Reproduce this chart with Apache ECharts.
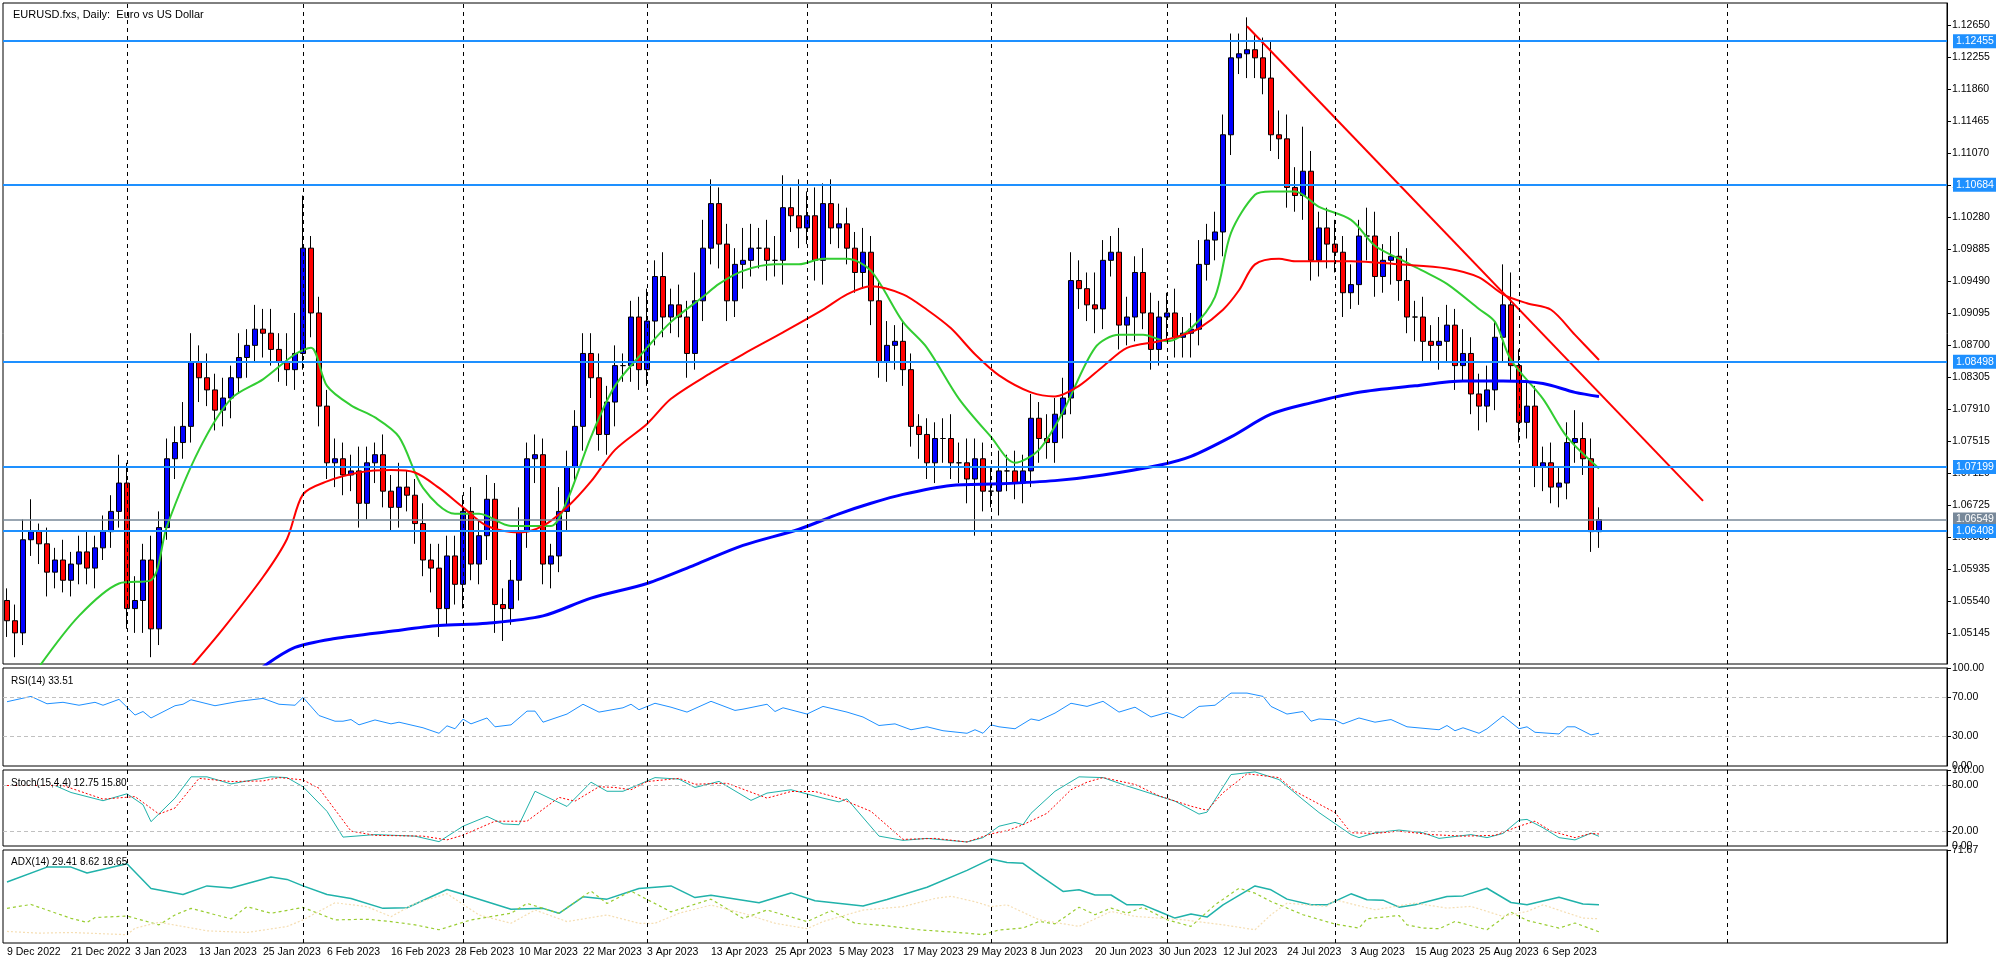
<!DOCTYPE html>
<html><head><meta charset="utf-8">
<script src="https://cdn.jsdelivr.net/npm/echarts@6/dist/echarts.min.js"></script>
<style>html,body{margin:0;padding:0;background:#fff}#c{width:1996px;height:958px}</style>
</head><body><div id="c"></div>
<script>
const titleText = 'EURUSD.fxs, Daily:  Euro vs US Dollar';
const startDate = '2022-12-09';
const skipDays = ['2022-12-26'];
const totalSlots = 243;
const closes = [
1.0530,1.0515,1.0630,1.0640,1.0625,1.0590,1.0605,1.0580,1.0600,1.0615,
1.0595,1.0620,1.0640,1.0665,1.0700,1.0545,1.0555,1.0605,1.0520,1.0645,
1.0730,1.0750,1.0770,1.0850,1.0830,1.0815,1.0790,1.0805,1.0830,1.0855,
1.0870,1.0890,1.0885,1.0865,1.0850,1.0840,1.0860,1.0990,1.0910,1.0795,
1.0725,1.0730,1.0710,1.0715,1.0675,1.0725,1.0735,1.0690,1.0670,1.0695,
1.0685,1.0650,1.0605,1.0595,1.0545,1.0610,1.0575,1.0665,1.0600,1.0635,
1.0680,1.0550,1.0545,1.0580,1.0640,1.0730,1.0735,1.0600,1.0610,1.0665,
1.0720,1.0770,1.0860,1.0830,1.0760,1.0800,1.0845,1.0845,1.0905,1.0840,
1.0900,1.0955,1.0905,1.0920,1.0905,1.0860,1.0925,1.0990,1.1045,1.0995,
1.0925,1.0970,1.0975,1.0990,1.0990,1.0975,1.0975,1.1040,1.1030,1.1015,
1.1030,1.0975,1.1045,1.1015,1.1020,1.0990,1.0960,1.0985,1.0925,1.0850,
1.0870,1.0875,1.0840,1.0770,1.0760,1.0725,1.0755,1.0755,1.0725,1.0725,
1.0705,1.0730,1.0690,1.0690,1.0715,1.0715,1.0700,1.0715,1.0780,1.0755,
1.0750,1.0785,1.0805,1.0950,1.0940,1.0920,1.0915,1.0975,1.0985,1.0895,
1.0905,1.0960,1.0910,1.0865,1.0905,1.0910,1.0880,1.0885,1.0890,1.0970,
1.1000,1.1010,1.1130,1.1225,1.1230,1.1235,1.1225,1.1200,1.1130,1.1125,
1.1065,1.1055,1.1085,1.0975,1.1015,1.0995,1.0985,1.0935,1.0945,1.1005,
1.1005,1.0955,1.0975,1.0980,1.0950,1.0905,1.0905,1.0875,1.0870,1.0875,
1.0895,1.0845,1.0860,1.0810,1.0795,1.0815,1.0880,1.0920,1.0845,1.0775,
1.0795,1.0720,1.0725,1.0695,1.0700,1.0750,1.0755,1.0730,1.0640,1.0655];
const firstOpen = 1.0555;
const wickUpPips = [
15,20,25,40,10,20,15,25,15,20,25,15,20,20,35,25,30,20,30,20,
25,20,30,35,20,30,20,25,15,30,20,30,25,30,20,35,50,65,15,20,
20,25,20,20,30,20,15,25,20,30,20,20,25,20,30,25,25,20,30,20,
30,20,20,25,30,20,25,20,15,30,20,20,25,25,30,20,25,15,20,25,
40,20,30,20,25,20,35,35,30,20,25,20,40,30,25,35,30,40,25,45,
30,35,25,30,25,20,20,30,20,25,30,20,25,20,15,20,20,25,30,25,
30,25,20,30,25,20,25,20,30,20,30,20,25,35,25,20,40,25,20,30,
25,20,30,25,20,25,30,20,20,30,20,25,25,30,25,40,20,25,45,30,
30,25,55,25,20,25,30,20,25,20,35,30,20,25,30,40,20,25,20,30,
25,20,30,20,25,30,20,50,40,20,30,25,20,25,20,25,35,20,25,15];
const wickDnPips = [
20,30,15,20,25,30,20,15,20,25,20,25,15,20,20,25,30,40,35,20,
15,25,20,20,30,20,25,20,25,20,25,20,30,20,25,20,25,20,30,25,
20,30,25,20,30,20,25,20,30,25,20,25,20,30,35,20,25,30,20,25,
30,35,40,20,25,20,30,25,30,20,25,20,30,25,20,25,30,20,20,25,
20,30,25,20,25,30,20,25,20,30,25,20,30,20,25,25,20,30,20,25,
20,25,30,20,25,20,25,20,30,20,25,30,20,25,30,20,25,30,20,25,
30,70,25,20,30,25,20,25,20,30,20,25,30,20,25,20,30,25,20,30,
25,30,20,25,20,30,25,25,30,20,20,25,30,25,20,30,25,20,20,25,
25,20,30,25,20,30,25,30,20,25,30,25,20,30,25,20,30,25,20,30,
25,30,20,25,30,20,25,30,20,25,20,25,30,20,25,20,25,20,25,20];
const maFast = [[4,1.0473],[9,1.0536],[14,1.0576],[18,1.0580],[20,1.0647],[24,1.0741],[28,1.0804],[32,1.0828],[36,1.0859],[38,1.0867],[40,1.0820],[43,1.0796],[46,1.0781],[49,1.0757],[52,1.0694],[56,1.0662],[59,1.0662],[63,1.0647],[65,1.0647],[68,1.0647],[70,1.0678],[73,1.0757],[76,1.0820],[80,1.0867],[83,1.0899],[87,1.0930],[89,1.0946],[92,1.0962],[96,1.0970],[99,1.0970],[102,1.0977],[105,1.0977],[108,1.0962],[112,1.0899],[115,1.0867],[119,1.0804],[123,1.0757],[126,1.0725],[129,1.0741],[132,1.0788],[136,1.0867],[139,1.0883],[142,1.0883],[145,1.0875],[148,1.0891],[151,1.0930],[153,1.1009],[156,1.1056],[158,1.1060],[161,1.1060],[164,1.1041],[168,1.1025],[171,1.0993],[174,1.0977],[177,1.0962],[180,1.0946],[184,1.0915],[186,1.0899],[188,1.0852],[192,1.0804],[195,1.0757],[199,1.0718]];
const maMid = [[23,1.0473],[27,1.0520],[32,1.0584],[35,1.0631],[37,1.0686],[40,1.0702],[44,1.0713],[48,1.0716],[51,1.0713],[54,1.0694],[57,1.0670],[60,1.0647],[64,1.0639],[67,1.0647],[70,1.0670],[73,1.0702],[76,1.0741],[80,1.0773],[83,1.0804],[88,1.0836],[92,1.0859],[97,1.0886],[102,1.0914],[105,1.0933],[108,1.0943],[112,1.0933],[115,1.0914],[118,1.0891],[121,1.0859],[124,1.0833],[128,1.0812],[131,1.0807],[134,1.0820],[137,1.0844],[140,1.0867],[144,1.0875],[147,1.0883],[149,1.0891],[152,1.0914],[154,1.0938],[156,1.0970],[159,1.0977],[161,1.0974],[168,1.0974],[174,1.0970],[180,1.0965],[184,1.0954],[187,1.0933],[190,1.0922],[193,1.0914],[196,1.0883],[199,1.0852]];
const maSlow = [[32,1.0473],[36,1.0497],[41,1.0508],[48,1.0517],[54,1.0524],[60,1.0527],[67,1.0536],[73,1.0558],[80,1.0576],[86,1.0599],[92,1.0623],[99,1.0643],[104,1.0662],[108,1.0675],[112,1.0686],[118,1.0697],[124,1.0699],[131,1.0703],[137,1.0710],[144,1.0722],[148,1.0733],[153,1.0757],[158,1.0785],[163,1.0799],[169,1.0812],[176,1.0820],[182,1.0826],[187,1.0826],[192,1.0823],[196,1.0812],[199,1.0807]];
const trendLine = [[155,1.1264],[212,1.0678]];
const levelsBlue = [1.12455,1.10684,1.08498,1.07199,1.06408];
const levelGray = 1.06549;
const priceTicks = [1.05145,1.05540,1.05935,1.06330,1.06725,1.07120,1.07515,1.07910,1.08305,1.08700,1.09095,1.09490,1.09885,1.10280,1.10675,1.11070,1.11465,1.11860,1.12255,1.12650];
const monthLines = [15,37,57,80,100,123,145,166,189,215];
const rsi = [[0,65.6],[3,71],[5,63.5],[7,65],[9,62],[11,65],[12,62],[14,68],[16,52],[17,55.6],[18,49],[21,61.5],[22,63],[23,67.6],[26,61.5],[29,66],[32,69],[34,63],[36,62],[37,70],[39,51.5],[41,45.7],[42,45.7],[43,47.4],[44,42],[46,47],[48,43],[49,44.7],[52,39],[54,33.4],[55,41],[56,38],[57,47.8],[58,43],[60,49],[61,40],[63,42],[65,56],[66,56],[67,44.7],[70,53],[72,63],[74,55],[77,59.4],[78,63],[79,57.4],[81,64],[83,60],[85,55],[88,66],[91,56.7],[92,58],[95,63],[96,55.6],[97,59.4],[100,53],[102,60.8],[105,55],[107,50],[109,41.3],[111,43],[113,37],[115,40],[117,36],[120,33.4],[121,37],[122,33.4],[123,42],[124,40],[126,38],[128,48],[129,46.4],[131,54],[133,64],[135,60.8],[137,66],[139,55],[141,60],[143,50],[145,54.6],[147,49],[149,60.8],[151,62],[153,74.4],[155,74.4],[157,71],[158,60.8],[160,53],[162,55.6],[163,45.7],[164,48],[166,47],[167,43],[169,49],[171,44.7],[173,47.4],[175,40],[179,37],[180,41.3],[181,36],[182,39],[184,33.4],[185,38],[187,51],[189,38],[190,40],[191,34.4],[194,32.7],[195,40],[196,40],[198,31.7],[199,33.5]];
const stochMain = [[6,79.6],[8,70.4],[12,59.6],[15,68.7],[17,54.3],[18,32],[21,63],[23,91],[25,91],[28,81.7],[30,85.6],[33,91],[35,90],[37,78],[40,45.6],[42,11.7],[46,15],[51,13],[54,5.7],[57,26],[60,39],[62,29],[64,28],[66,72],[70,52],[73,84],[75,72],[77,72],[81,90],[84,88],[86,77],[89,85],[93,60],[95,69.6],[98,74],[102,63],[104,58],[105,62],[109,13],[112,7.4],[115,10],[120,5.3],[122,11],[124,26],[126,31],[127,28],[128,43],[131,72],[134,91],[137,90],[140,79],[143,69],[146,59],[149,42],[150,44.5],[153,94],[156,97.5],[159,87.4],[162,61],[164,44],[168,15],[169,11],[171,17.4],[174,21],[177,17.4],[179,10],[183,15],[185,11],[187,16.5],[189,34],[190,35],[192,24],[194,11],[196,8],[198,17],[199,12.75]];
const stochSignal = [[0,79.6],[7,79.6],[12,61.7],[16,65],[19,42],[21,50],[24,89],[28,84.8],[32,85.6],[34,90],[37,87],[39,76],[43,19.6],[46,14],[52,13],[55,8],[57,14.3],[61,32.6],[65,32.6],[69,64],[71,59],[74,78],[76,77],[78,74],[80,84.8],[84,89],[86,81.3],[90,82.6],[95,63],[98,71.7],[101,71.7],[104,63],[108,45.6],[112,8.7],[116,10],[120,5.3],[123,16],[125,20],[127,28],[130,43],[133,74],[135,84],[137,90],[141,81],[144,66],[148,52.4],[150,47],[152,70],[155,95],[159,90],[161,72],[166,44],[168,17.4],[171,16.5],[174,19.6],[178,15],[182,13],[186,14],[189,26],[191,32.7],[193,19.6],[196,11],[198,16.5],[199,15.8]];
const adxMain = [[0,47],[5,58.5],[8,58.5],[10,53.9],[15,61],[18,42],[22,37.4],[25,44],[28,42.4],[33,50.8],[35,49],[37,44],[40,37.4],[43,34.3],[47,26.7],[50,27.2],[55,41.2],[57,37.6],[63,26],[67,26.7],[69,22.9],[72,35.6],[75,33.8],[79,42],[83,44],[86,35],[88,36.8],[94,31],[98,38.6],[101,32.5],[107,28.5],[110,33.5],[115,43],[120,56],[123,64.8],[125,62],[127,61.4],[129,52.5],[132,39.7],[134,41],[136,37],[138,37],[140,29.4],[142,29.4],[144,24.3],[146,19.2],[148,22.3],[150,20],[152,29.4],[156,44],[158,41],[160,33.8],[163,29.4],[165,29.4],[168,37.9],[170,33.3],[172,33],[174,27.6],[176,29.4],[180,35.8],[182,36.3],[185,42.2],[188,31.2],[190,29.4],[194,35.3],[197,30],[199,29.41]];
const diPlus = [[0,26.7],[3,29.7],[8,19],[10,15.8],[11,19.6],[15,20.8],[19,14],[21,21.6],[23,26.7],[28,18.6],[30,28],[33,22.9],[37,27.4],[41,17.8],[45,18.3],[48,16.5],[51,14],[54,10.2],[58,17.8],[63,22.9],[65,30.5],[69,22.9],[73,40],[75,30.5],[78,40],[83,24],[88,33.8],[92,19],[95,25.4],[100,16.5],[103,24.9],[106,15.2],[110,13.2],[114,10.2],[120,7.6],[122,6.4],[124,10],[127,11.5],[129,16.6],[131,14.8],[134,27.6],[136,21.8],[138,26.9],[140,23],[142,27.4],[145,17.9],[148,12.8],[151,29.4],[154,42.2],[156,38.4],[158,32],[162,21.8],[166,14.6],[169,11.5],[170,18.7],[174,21.2],[175,14],[177,11.5],[179,11],[181,16.6],[185,10.2],[188,23.8],[190,17.4],[194,11.5],[196,15.4],[199,8.62]];
const diMinus = [[0,8.9],[4,7.6],[8,8.1],[15,6.4],[16,11.4],[19,16],[25,9.4],[30,8.1],[35,12.7],[37,17.8],[41,31],[45,28],[48,20.3],[51,30.5],[55,38],[59,21.6],[63,15.2],[66,25.4],[70,16.5],[75,21.6],[79,15.2],[81,15.2],[84,22.9],[88,29.2],[92,22.9],[96,15.2],[100,11],[102,16.5],[107,25.4],[112,28],[116,34.3],[118,36],[121,31.8],[123,28],[125,29.4],[129,17.9],[134,12.8],[138,24.3],[141,20.5],[144,19.2],[147,17.9],[152,14],[156,10.2],[158,21.8],[160,30.7],[165,28.2],[166,33.3],[171,25.6],[176,30.7],[180,26.9],[183,28.2],[187,20.5],[190,24.3],[192,29.4],[197,19.2],[199,18.65]];

// ---- build ----
const months=['Jan','Feb','Mar','Apr','May','Jun','Jul','Aug','Sep','Oct','Nov','Dec'];
const cats=[];
let d=new Date(startDate+'T12:00:00Z');
while(cats.length<closes.length){
  const wd=d.getUTCDay(); const iso=d.toISOString().slice(0,10);
  if(wd!==0&&wd!==6&&!skipDays.includes(iso)) cats.push(d.getUTCDate()+' '+months[d.getUTCMonth()]+' '+d.getUTCFullYear());
  d=new Date(d.getTime()+86400000);
}
while(cats.length<totalSlots) cats.push('');
const candles=closes.map((c,i)=>{
  const o=i===0?firstOpen:closes[i-1];
  return [o,c,+(Math.min(o,c)-wickDnPips[i]*0.0001).toFixed(5),+(Math.max(o,c)+wickUpPips[i]*0.0001).toFixed(5)];
});
const F='Tahoma, "Liberation Sans", "DejaVu Sans", sans-serif';
const grids=[
 {left:3,right:49,top:3,height:661},
 {left:3,right:49,top:668,height:98},
 {left:3,right:49,top:770,height:76},
 {left:3,right:49,top:850,height:93}];
const xAxes=grids.map((g,k)=>({type:'category',gridIndex:k,data:cats,boundaryGap:true,
  axisLine:{show:false},axisTick:{show:false},splitLine:{show:false},
  axisLabel:k===3?{show:true,interval:7,color:'#000',fontFamily:F,fontSize:10.5,align:'left',margin:4}:{show:false}}));
const yLab=(vals,fmt)=>({show:true,customValues:vals,color:'#000',fontFamily:F,fontSize:10.5,margin:5,formatter:fmt});
const yAxes=[
 {type:'value',gridIndex:0,position:'right',min:1.04766,max:1.12927,splitLine:{show:false},
  axisLine:{show:true,lineStyle:{color:'#000'}},axisTick:{show:true,customValues:priceTicks,length:4,lineStyle:{color:'#000'}},
  axisLabel:yLab(priceTicks,v=>v.toFixed(5))},
 {type:'value',gridIndex:1,position:'right',min:0,max:100,splitLine:{show:false},
  axisLine:{show:true,lineStyle:{color:'#000'}},axisTick:{show:true,customValues:[30,70,100],length:4,lineStyle:{color:'#000'}},
  axisLabel:yLab([0,30,70,100],v=>v.toFixed(2))},
 {type:'value',gridIndex:2,position:'right',min:0,max:100,splitLine:{show:false},
  axisLine:{show:true,lineStyle:{color:'#000'}},axisTick:{show:true,customValues:[20,80,100],length:4,lineStyle:{color:'#000'}},
  axisLabel:yLab([0,20,80,100],v=>v.toFixed(2))},
 {type:'value',gridIndex:3,position:'right',min:0,max:71.67,splitLine:{show:false},
  axisLine:{show:true,lineStyle:{color:'#000'}},axisTick:{show:true,customValues:[71.67],length:4,lineStyle:{color:'#000'}},
  axisLabel:yLab([71.67],v=>v.toFixed(2))}];
const vItems=()=>monthLines.map(x=>({xAxis:x,lineStyle:{color:'#000',type:[4,4],width:1},label:{show:false}}));
const lvl=(v,col)=>({yAxis:v,lineStyle:{color:col,width:col==='#1e90ff'?2:1.5,type:'solid'},
  label:{show:true,position:'end',formatter:v.toFixed(5),color:'#fff',backgroundColor:col,padding:[2,3,1,3],fontFamily:F,fontSize:10.5,distance:6}});
const dashLvl=vals=>vals.map(v=>({yAxis:v,lineStyle:{color:'#c0c0c0',type:[4,3],width:1},label:{show:false}}));
const ml=data=>({silent:true,symbol:'none',animation:false,precision:5,data});
const lineS=(data,xi,color,w,type,smooth)=>({type:'line',xAxisIndex:xi,yAxisIndex:xi,data,showSymbol:false,silent:true,animation:false,
  smooth:smooth||false,lineStyle:{color,width:w,type:type||'solid'},z:3});
const series=[
 {type:'candlestick',xAxisIndex:0,yAxisIndex:0,data:candles,barWidth:5,animation:false,
  itemStyle:{color:'#0000ff',color0:'#ff0000',borderColor:'#000',borderColor0:'#000',borderWidth:1},z:2},
 Object.assign(lineS(maFast,0,'#32cd32',2,'solid',0.3),{markLine:ml(vItems())}),
 lineS(maMid,0,'#ff0000',2,'solid',0.3),lineS(maSlow,0,'#0000ff',3,'solid',0.3),
 Object.assign(lineS(trendLine,0,'#ff0000',2),{markLine:ml([lvl(levelGray,'#778899'),...levelsBlue.map(v=>lvl(v,'#1e90ff'))])}),
 Object.assign(lineS(rsi,1,'#1e90ff',1),{markLine:ml([...dashLvl([70,30]),...vItems()])}),
 Object.assign(lineS(stochMain,2,'#20b2aa',1),{markLine:ml([...dashLvl([80,20]),...vItems()])}),
 lineS(stochSignal,2,'#ff0000',1,[2,2]),
 Object.assign(lineS(adxMain,3,'#20b2aa',1.5),{markLine:ml(vItems())}),
 lineS(diPlus,3,'#9acd32',1.2,[3,3]),lineS(diMinus,3,'#f5deb3',1.2,[2,2])
];
const chart=echarts.init(document.getElementById('c'),null,{renderer:'canvas'});
chart.setOption({animation:false,backgroundColor:'#fff',
 grid:grids.map(g=>Object.assign({show:true,borderColor:'#000',borderWidth:1,backgroundColor:'#fff'},g)),
 xAxis:xAxes,yAxis:yAxes,
 title:[
  {text:titleText,left:8,top:4,textStyle:{fontFamily:F,fontSize:11,fontWeight:'normal',color:'#000'}},
  {text:'RSI(14) 33.51',left:6,top:671,textStyle:{fontFamily:F,fontSize:10,fontWeight:'normal',color:'#000'}},
  {text:'Stoch(15,4,4) 12.75 15.80',left:6,top:773,textStyle:{fontFamily:F,fontSize:10,fontWeight:'normal',color:'#000'}},
  {text:'ADX(14) 29.41 8.62 18.65',left:6,top:852,textStyle:{fontFamily:F,fontSize:10,fontWeight:'normal',color:'#000'}}],
 series});
</script></body></html>
